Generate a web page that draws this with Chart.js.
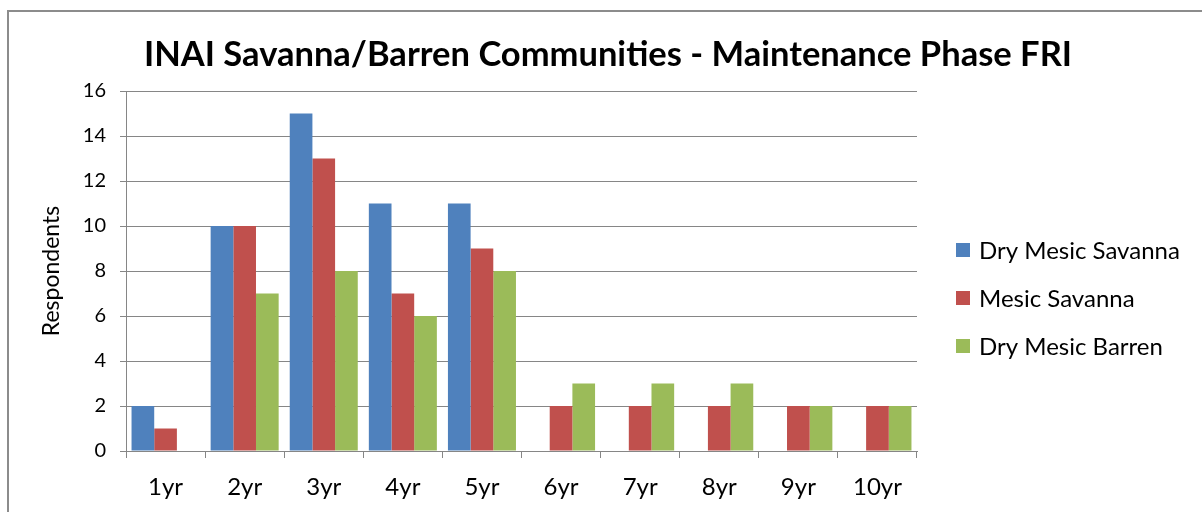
<!DOCTYPE html>
<html>
<head>
<meta charset="utf-8">
<script src="https://cdn.jsdelivr.net/npm/chart.js@4"></script>
<style>
  html, body { margin: 0; padding: 0; background: #fff; overflow: hidden; }
  #wrap { position: relative; width: 1202px; height: 512px; }
  #frame { position: absolute; left: 7px; top: 10px; width: 1210px; height: 520px; border: 2px solid #8c8c8c; box-sizing: border-box; }
  canvas { position: absolute; left: 0; top: 0; }
</style>
</head>
<body>
<div id="wrap">
  <div id="frame"></div>
  <canvas id="chart" width="1202" height="512"></canvas>
</div>
<script>
const categories = ["1yr", "2yr", "3yr", "4yr", "5yr", "6yr", "7yr", "8yr", "9yr", "10yr"];
const dryMesicSavanna = [2, 10, 15, 11, 11, 0, 0, 0, 0, 0];
const mesicSavanna = [1, 10, 13, 7, 9, 2, 2, 2, 2, 2];
const dryMesicBarren = [0, 7, 8, 6, 8, 3, 3, 3, 2, 2];
const seriesNames = ["Dry Mesic Savanna", "Mesic Savanna", "Dry Mesic Barren"];
const seriesColors = ["#4F81BD", "#C0504D", "#9BBB59"];
const chartTitle = "INAI Savanna/Barren Communities - Maintenance Phase FRI";

const FONT = "Lato, 'Open Sans', sans-serif";

// title centred on the whole frame, legend to the right of the plot area
const decorations = {
    id: "decorations",
    afterDraw(chart) {
        const ctx = chart.ctx;
        const area = chart.chartArea;
        ctx.save();
        ctx.fillStyle = "#000";
        ctx.textAlign = "center";
        ctx.textBaseline = "middle";
        ctx.font = "bold 34.5px " + FONT;
        ctx.fillText(chartTitle, chart.width / 2 + 7, 55);

        const x = area.right + 39;
        ctx.textAlign = "left";
        ctx.font = "24px " + FONT;
        chart.data.datasets.forEach((ds, i) => {
            const y = area.top + 159 + i * 48;
            ctx.fillStyle = ds.backgroundColor;
            ctx.fillRect(x, y - 7, 14, 14);
            ctx.fillStyle = "#000";
            ctx.fillText(ds.label, x + 23, y + 1);
        });
        ctx.restore();
    }
};

const datasets = [dryMesicSavanna, mesicSavanna, dryMesicBarren].map((values, i) => ({
    label: seriesNames[i],
    data: values,
    backgroundColor: seriesColors[i],
    borderWidth: 0,
    barPercentage: 1.0,
    categoryPercentage: 0.86
}));

new Chart(document.getElementById("chart"), {
    type: "bar",
    data: { labels: categories, datasets },
    plugins: [decorations],
    options: {
        responsive: false,
        animation: false,
        layout: { padding: { left: 0, right: 285, top: 91, bottom: 0 } },
        plugins: {
            legend: { display: false },
            tooltip: { enabled: false },
            title: { display: false }
        },
        scales: {
            x: {
                afterFit(scale) { scale.height = 61; },
                grid: {
                    offset: true,
                    drawOnChartArea: false,
                    drawTicks: true,
                    tickLength: 7,
                    color: "#868686"
                },
                border: { color: "#868686", width: 1 },
                ticks: { color: "#000", font: { family: FONT, size: 24 }, padding: 15 }
            },
            y: {
                min: 0,
                max: 16,
                afterFit(scale) { scale.width = 126; },
                ticks: { stepSize: 2, color: "#000", font: { family: FONT, size: 20 }, padding: 14 },
                grid: { color: "#868686", tickLength: 6 },
                border: { color: "#868686", width: 1 },
                title: {
                    display: true,
                    text: "Respondents",
                    color: "#000",
                    font: { family: FONT, size: 23 },
                    padding: { top: 38, bottom: 0 }
                }
            }
        }
    }
});
</script>
</body>
</html>
